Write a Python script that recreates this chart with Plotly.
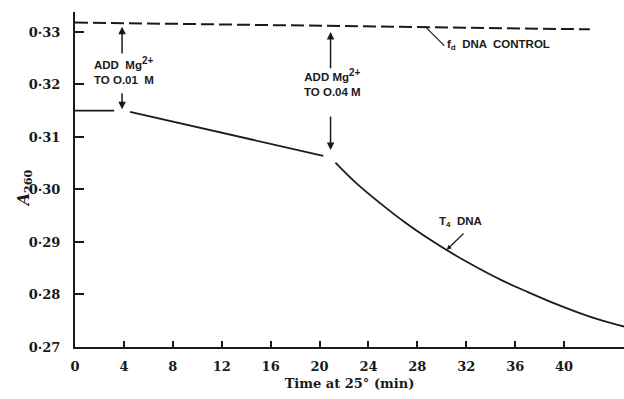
import plotly.graph_objects as go

# ---- data ----
control_t = [0.0, 20.0, 42.1]
control_a = [0.3318, 0.3312, 0.3305]

t4_pre_t = [0.0, 3.2]
t4_pre_a = [0.3150, 0.3150]

t4_mg1_t = [4.5, 20.3]
t4_mg1_a = [0.3148, 0.3064]

t4_mg2_t = [21.3, 23.0, 25.0, 27.0, 29.0, 31.0, 33.0, 35.0, 37.0, 39.0, 41.0, 43.0, 44.9]
t4_mg2_a = [0.3051, 0.3012, 0.2973, 0.2937, 0.2905, 0.2876, 0.2850, 0.2826, 0.2805, 0.2785, 0.2767, 0.2751, 0.2739]

x_ticks = [0, 4, 8, 12, 16, 20, 24, 28, 32, 36, 40]
y_ticks = [0.27, 0.28, 0.29, 0.30, 0.31, 0.32, 0.33]
y_tick_labels = ["0·27", "0·28", "0·29", "0·30", "0·31", "0·32", "0·33"]

mg1_time = 3.85
mg2_time = 20.9

INK = "#1a1a1a"
SERIF = "DejaVu Serif"
SANS = "Liberation Sans"

fig = go.Figure()
fig.add_trace(go.Scatter(x=control_t, y=control_a, mode="lines",
                         line=dict(color=INK, width=2, dash="13px,5px")))
for tx, ay, shape in [(t4_pre_t, t4_pre_a, "linear"),
                      (t4_mg1_t, t4_mg1_a, "linear"),
                      (t4_mg2_t, t4_mg2_a, "spline")]:
    fig.add_trace(go.Scatter(x=tx, y=ay, mode="lines",
                             line=dict(color=INK, width=1.8, shape=shape)))

ann = []
def arrow(x, tip, tail):
    ann.append(dict(x=x, y=tip, ax=x, ay=tail, xref="x", yref="y", axref="x", ayref="y",
                    text="", showarrow=True, arrowhead=2, arrowsize=1, arrowwidth=1.5,
                    arrowcolor=INK))

arrow(mg1_time, 0.3310, 0.3256)
arrow(mg1_time, 0.3153, 0.3186)
arrow(mg2_time, 0.3300, 0.3228)
arrow(mg2_time, 0.3075, 0.3142)

SUP = "<sup><span style='font-size:10px'>2+</span></sup>"
lab_font = dict(family=SANS, size=11.5, color=INK, weight="bold")
ann.append(dict(x=1.35, y=0.3226, xref="x", yref="y", xanchor="left", yanchor="middle",
                text="ADD  Mg" + SUP + "<br>TO O.01  M", showarrow=False, align="left",
                font=lab_font))
ann.append(dict(x=mg2_time + 0.2, y=0.3203, xref="x", yref="y", xanchor="center", yanchor="middle",
                text="ADD Mg" + SUP + "<br>TO O.04 M", showarrow=False, align="center",
                font=lab_font))
ann.append(dict(x=30.3, y=0.3276, xref="x", yref="y", xanchor="left", yanchor="middle",
                text="f<sub>d</sub>  DNA  CONTROL", showarrow=False, font=lab_font))
ann.append(dict(x=29.6, y=0.2938, xref="x", yref="y", xanchor="left", yanchor="middle",
                text="T<sub>4</sub>  DNA", showarrow=False, font=lab_font))
ann.append(dict(x=30.4, y=0.2885, ax=31.9, ay=0.2919, xref="x", yref="y", axref="x", ayref="y",
                text="", showarrow=True, arrowhead=2, arrowsize=0.8, arrowwidth=1.2,
                arrowcolor=INK))
# y-axis title placed as rotated annotation
ann.append(dict(x=-0.092, y=0.475, xref="paper", yref="paper", xanchor="center", yanchor="middle",
                text="<i>A</i><sub>260</sub>", textangle=-90, showarrow=False,
                font=dict(family=SERIF, size=16, color=INK, weight="bold")))

fig.add_shape(type="line", x0=28.6, y0=0.3311, x1=30.2, y1=0.3274, xref="x", yref="y",
              line=dict(color=INK, width=1.2))

fig.update_layout(
    width=624, height=399,
    margin=dict(l=75, r=0, t=12, b=52),
    paper_bgcolor="white", plot_bgcolor="white",
    showlegend=False, hovermode=False,
    annotations=ann,
    font=dict(family=SERIF, color=INK),
)
fig.update_xaxes(range=[0, 44.9], tickmode="array", tickvals=x_ticks,
                 ticktext=[str(v) for v in x_ticks], automargin=False,
                 ticks="inside", ticklen=6, tickwidth=1.5, tickcolor=INK,
                 showline=True, linecolor=INK, linewidth=2, showgrid=False, zeroline=False,
                 ticklabelstandoff=6,
                 tickfont=dict(family=SERIF, size=13, color=INK, weight="bold"),
                 title=dict(text="Time at 25° (min)", standoff=6,
                            font=dict(family=SERIF, size=13, color=INK, weight="bold")))
fig.update_yaxes(range=[0.27, 0.3338], tickmode="array", tickvals=y_ticks, ticktext=y_tick_labels,
                 automargin=False,
                 ticks="inside", ticklen=9, tickwidth=1.5, tickcolor=INK,
                 showline=True, linecolor=INK, linewidth=2, showgrid=False, zeroline=False,
                 ticklabelstandoff=10,
                 tickfont=dict(family=SERIF, size=13, color=INK, weight="bold"))

fig.write_html("out.html", config={"displayModeBar": False},
               post_script="document.body.style.margin='0';document.body.style.overflow='hidden';")
